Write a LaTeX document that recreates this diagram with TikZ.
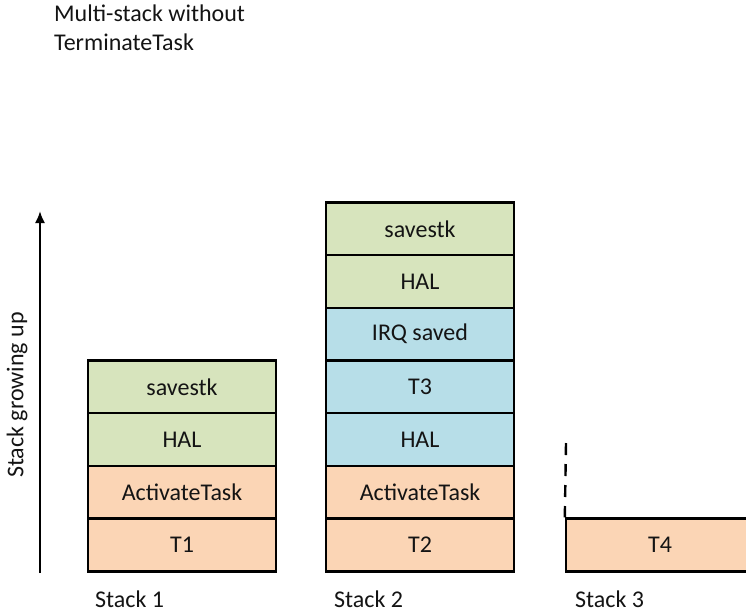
\documentclass[tikz,border=0pt]{standalone}
\usepackage{fontspec}
\setmainfont{Carlito}
\usetikzlibrary{arrows.meta}
\definecolor{cgreen}{HTML}{D7E4BD}
\definecolor{corange}{HTML}{FBD5B5}
\definecolor{cblue}{HTML}{B7DEE8}
\begin{document}
\begin{tikzpicture}[x=1pt,y=-1pt,
  cell/.style={draw=black,line width=2.4pt,minimum width=188pt,minimum height=52.7pt,inner sep=0pt,font=\fontsize{24}{29}\selectfont},
  lbl/.style={font=\fontsize{24}{29}\selectfont,inner sep=0pt,anchor=base west},
  every node/.style={text=black!92}]
\useasboundingbox (0,0) rectangle (746,614);
% title
\node[lbl,align=left,anchor=north west] (title) at (54,5) {Multi-stack without\\TerminateTask};
% arrow
\coordinate (abot) at (40,573);
\coordinate (atop) at (40,211);
\draw[line width=2pt,-{Latex[length=12pt,width=10pt]}] (abot) -- (atop);
\node[lbl,rotate=90,anchor=center] (grow) at (17,395) {Stack growing up};
% stack 1
\node[cell,fill=corange] (s1a) at (182,545) {T1};
\node[cell,fill=corange] (s1b) at (182,492.3) {ActivateTask};
\node[cell,fill=cgreen] (s1c) at (182,439.6) {HAL};
\node[cell,fill=cgreen] (s1d) at (182,386.9) {savestk};
% stack 2
\node[cell,fill=corange] (s2a) at (420,545) {T2};
\node[cell,fill=corange] (s2b) at (420,492.3) {ActivateTask};
\node[cell,fill=cblue] (s2c) at (420,439.6) {HAL};
\node[cell,fill=cblue] (s2d) at (420,386.9) {T3};
\node[cell,fill=cblue] (s2e) at (420,334.2) {IRQ saved};
\node[cell,fill=cgreen] (s2f) at (420,281.5) {HAL};
\node[cell,fill=cgreen] (s2g) at (420,228.8) {savestk};
% stack 3
\node[cell,fill=corange] (s3a) at (660,545) {T4};
\coordinate (dtop) at (566,443);
\draw[line width=2.4pt,dash pattern=on 12pt off 9pt] (dtop) -- (s3a.north west);
% labels
\node[lbl] (l1) at (95,607) {Stack 1};
\node[lbl] (l2) at (334,607) {Stack 2};
\node[lbl] (l3) at (575,607) {Stack 3};
\end{tikzpicture}
\end{document}
